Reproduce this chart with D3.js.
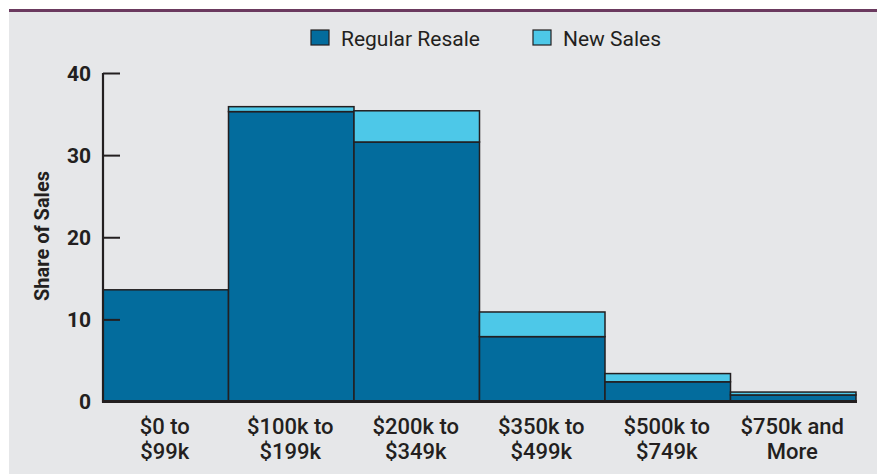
<!DOCTYPE html>
<html><head><meta charset="utf-8">
<script src="https://cdn.jsdelivr.net/npm/d3@7"></script>
<style>
html,body{margin:0;padding:0;background:#fff;}
svg{display:block;}
text{font-family:Roboto,"Liberation Sans",Arial,sans-serif;fill:#231f20;}
</style></head>
<body>
<svg id="chart" width="877" height="474"></svg>
<script>
const categories = [["$0 to","$99k"],["$100k to","$199k"],["$200k to","$349k"],["$350k to","$499k"],["$500k to","$749k"],["$750k and","More"]];
const regularResale = [13.6, 35.3, 31.6, 7.9, 2.4, 0.8];
const newSales = [0, 0.6, 3.8, 3.0, 1.0, 0.35];
const yTicks = [0, 10, 20, 30, 40];
const seriesNames = ["Regular Resale", "New Sales"];
const colors = ["#036c9d", "#4dc8e8"];

const svg = d3.select("#chart");
const W = 877, H = 474;

// background panel
svg.append("rect").attr("x", 9).attr("y", 11).attr("width", W - 9).attr("height", H - 11).attr("fill", "#e6e7e9");
svg.append("rect").attr("x", 9).attr("y", 9).attr("width", W - 9).attr("height", 3).attr("fill", "#6b3a5f");

const labels = categories.map(c => c.join(" "));
const x = d3.scaleBand().domain(labels).range([103, 856]).paddingInner(0).paddingOuter(0);
const y = d3.scaleLinear().domain([0, 40]).range([401.5, 73]);

const data = labels.map((l, i) => ({ label: l, reg: regularResale[i], nw: newSales[i] }));
const stack = d3.stack().keys(["reg", "nw"]);
const layers = stack(data);

const g = svg.append("g");
layers.forEach((layer, li) => {
  g.selectAll(null).data(layer.filter(d => d[1] - d[0] > 0)).enter().append("rect")
    .attr("x", d => x(d.data.label))
    .attr("y", d => y(d[1]))
    .attr("width", x.bandwidth())
    .attr("height", d => y(d[0]) - y(d[1]))
    .attr("fill", colors[li])
    .attr("stroke", "#231f20")
    .attr("stroke-width", 1.5);
});

// y axis
const yAxis = d3.axisRight(y).tickValues(yTicks).tickSize(17).tickFormat("");
const ya = svg.append("g").attr("transform", "translate(103,0)").call(yAxis);
ya.select(".domain").remove();
ya.selectAll(".tick line").attr("stroke", "#231f20").attr("stroke-width", 2);
svg.append("line").attr("x1", 103).attr("x2", 103).attr("y1", y(40)).attr("y2", y(0) + 1)
  .attr("stroke", "#231f20").attr("stroke-width", 2.2);
svg.append("g").selectAll("text").data(yTicks).enter().append("text")
  .attr("x", 91).attr("y", d => y(d)).attr("dy", "0.36em")
  .attr("text-anchor", "end").attr("font-size", 21).attr("font-weight", 700)
  .text(d => d);

// x axis baseline
svg.append("line").attr("x1", 102).attr("x2", 857).attr("y1", y(0)).attr("y2", y(0))
  .attr("stroke", "#231f20").attr("stroke-width", 3);

// x labels
const xl = svg.append("g").selectAll("text").data(categories).enter().append("text")
  .attr("x", (d, i) => x(labels[i]) + x.bandwidth() / 2 - 1)
  .attr("text-anchor", "middle").attr("font-size", 22).attr("font-weight", 500);
xl.each(function(d) {
  const t = d3.select(this);
  d.forEach((line, k) => {
    t.append("tspan").attr("x", t.attr("x")).attr("y", 434 + k * 25).text(line);
  });
});

// y title
svg.append("text").attr("transform", "translate(49,236) rotate(-90)")
  .attr("text-anchor", "middle").attr("font-size", 20).attr("font-weight", 700)
  .text("Share of Sales");

// legend
const legendX = [311, 533];
seriesNames.forEach((s, i) => {
  svg.append("rect").attr("x", legendX[i]).attr("y", 30).attr("width", 18).attr("height", 15)
    .attr("fill", colors[i]).attr("stroke", "#231f20").attr("stroke-width", 1.2);
  svg.append("text").attr("x", legendX[i] + 30).attr("y", 45.5).attr("font-size", 21)
    .text(s);
});
</script>
</body></html>
